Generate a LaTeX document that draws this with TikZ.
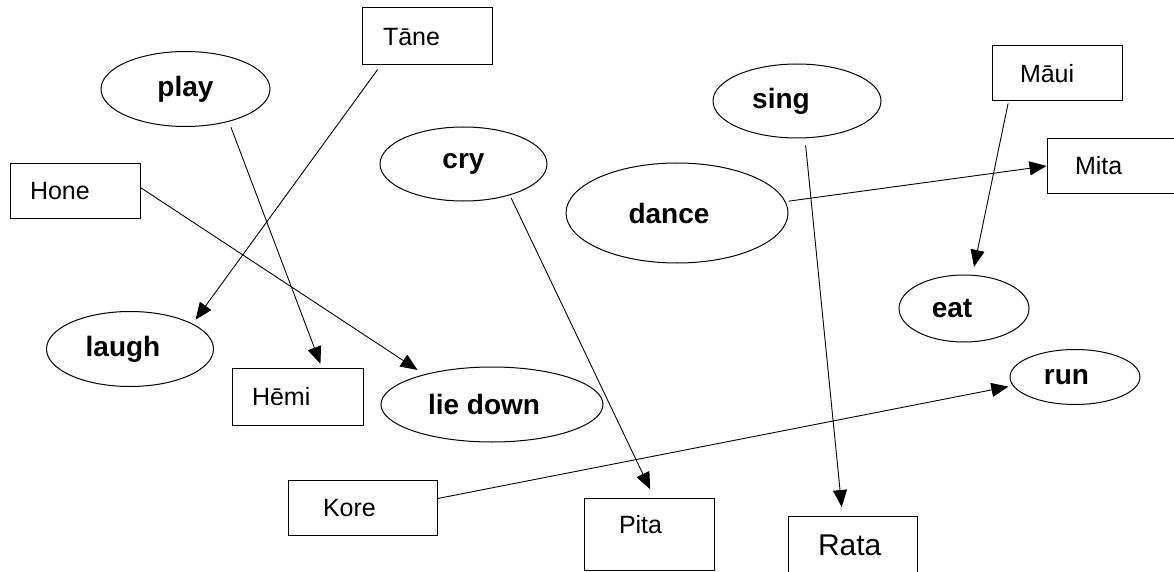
\documentclass[tikz,border=0pt]{standalone}
\usepackage{fontspec}
\setmainfont{Liberation Sans}
\usetikzlibrary{shapes.geometric,arrows.meta}
\begin{document}
\begin{tikzpicture}[x=1pt,y=-1pt,
  act/.style={draw, ellipse, inner sep=0pt, line width=1pt, font=\fontsize{28}{30}\selectfont\bfseries},
  nm/.style={draw, rectangle, line width=1pt, inner ysep=0pt, align=left, text height=18pt, text depth=0pt, font=\fontsize{25}{27}\selectfont},
  link/.style={line width=0.9pt, -{Triangle[length=17pt,width=14pt]}},
]
\useasboundingbox (0,0) rectangle (1174,572);

% action ellipses
\node[act, minimum width=169pt, minimum height=75pt] (play) at (185.5,89) {play};
\node[act, minimum width=167pt, minimum height=74pt] (cry) at (463.5,164) {cry};
\node[act, minimum width=168pt, minimum height=74pt] (sing) at (797,101) {sing\hspace*{32pt}};
\node[act, minimum width=222pt, minimum height=100pt] (dance) at (677,213) {dance\hspace*{16pt}};
\node[act, minimum width=130pt, minimum height=67pt] (eat) at (964,308.5) {eat\hspace*{24pt}};
\node[act, minimum width=130pt, minimum height=55pt] (run) at (1075,377) {run\hspace*{17pt}};
\node[act, minimum width=167pt, minimum height=75pt] (laugh) at (130,349) {laugh\hspace*{14pt}};
\node[act, minimum width=222pt, minimum height=75pt] (liedown) at (492,404.5) {lie down\hspace*{16pt}};

% name boxes
\node[nm, minimum height=57pt, inner xsep=21pt, text width=88pt] (tane) at (427,36.5) {Tāne};
\node[nm, minimum height=54pt, inner xsep=20pt, text width=90pt] (hone) at (75,191) {Hone};
\node[nm, minimum height=55pt, inner xsep=28pt, text width=74pt] (maui) at (1057,73.5) {Māui};
\node[nm, minimum height=54pt, inner xsep=28pt, text width=72pt] (mita) at (1111,166) {Mita};
\node[nm, minimum height=57pt, inner xsep=20pt, text width=91pt] (hemi) at (297.5,396.5) {Hēmi};
\node[nm, minimum height=55.5pt, inner xsep=35pt, text width=79pt] (kore) at (362.5,507.75) {Kore};
\node[nm, minimum height=72pt, inner xsep=35pt, text width=60pt] (pita) at (649,534) {\raisebox{10pt}{Pita}};
\node[nm, minimum height=56.5pt, inner xsep=30pt, text width=69pt, text height=21.6pt, font=\fontsize{30}{32}\selectfont] (rata) at (852.5,544.75) {Rata};

% connectors
\draw[link, shorten <=5pt, shorten >=5pt] (tane.212) -- (laugh.22);
\draw[link, shorten <=6pt, shorten >=4pt] (play.323) -- (hemi.50);
\draw[link, shorten >=8pt] (hone.3.5) -- (liedown.156.5);
\draw[link, shorten <=3pt, shorten >=9pt] (cry.326) -- (pita.82);
\draw[link, shorten <=7pt, shorten >=9pt] (sing.282.4) -- (rata.109);
\draw[link, shorten <=3pt] (dance.6.2) -- (mita.west);
\draw[link, shorten <=2pt, shorten >=8pt] (maui.210.3) -- (eat.76.5);
\draw[link, shorten >=4.5pt] (kore.7.6) -- (run.188.7);
\end{tikzpicture}
\end{document}
